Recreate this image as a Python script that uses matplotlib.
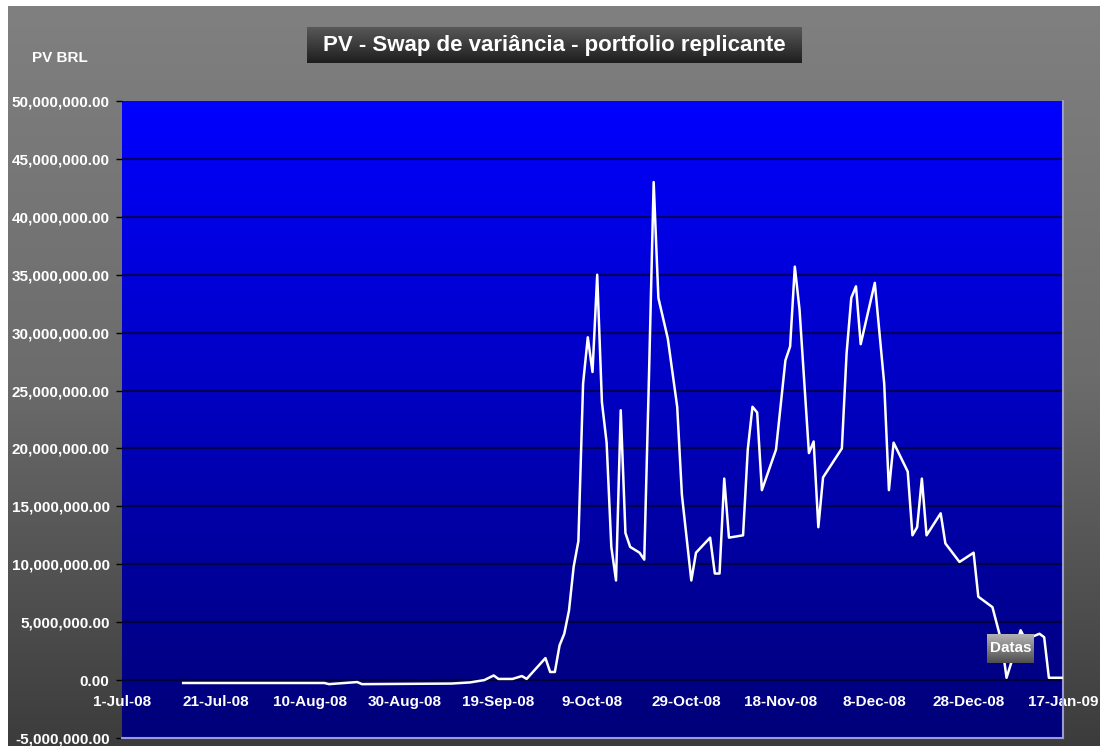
import numpy as np
import pandas as pd
import matplotlib
matplotlib.use("Agg")
from matplotlib import pyplot as plt
from matplotlib.colors import LinearSegmentedColormap
from matplotlib.ticker import FuncFormatter, MultipleLocator, FixedLocator
import matplotlib.dates as mdates

plt.rcParams['font.family'] = ['Liberation Sans', 'DejaVu Sans']

# data (PV in millions of BRL)
dates = [
    "2008-07-14", "2008-08-13", "2008-08-14", "2008-08-20", "2008-08-21",
    "2008-09-09", "2008-09-13", "2008-09-16", "2008-09-18", "2008-09-19",
    "2008-09-22", "2008-09-24", "2008-09-25", "2008-09-29", "2008-09-30",
    "2008-10-01", "2008-10-02", "2008-10-03", "2008-10-04", "2008-10-05",
    "2008-10-06", "2008-10-07", "2008-10-08", "2008-10-09", "2008-10-10",
    "2008-10-11", "2008-10-12", "2008-10-13", "2008-10-14", "2008-10-15",
    "2008-10-16", "2008-10-17", "2008-10-19", "2008-10-20", "2008-10-21",
    "2008-10-22", "2008-10-23", "2008-10-25", "2008-10-27", "2008-10-28",
    "2008-10-30", "2008-10-31", "2008-11-03", "2008-11-04", "2008-11-05",
    "2008-11-06", "2008-11-07", "2008-11-10", "2008-11-11", "2008-11-12",
    "2008-11-13", "2008-11-14", "2008-11-17", "2008-11-19", "2008-11-20",
    "2008-11-21", "2008-11-22", "2008-11-24", "2008-11-25", "2008-11-26",
    "2008-11-27", "2008-12-01", "2008-12-02", "2008-12-03", "2008-12-04",
    "2008-12-05", "2008-12-08", "2008-12-10", "2008-12-11", "2008-12-12",
    "2008-12-15", "2008-12-16", "2008-12-17", "2008-12-18", "2008-12-19",
    "2008-12-22", "2008-12-23", "2008-12-26", "2008-12-29", "2008-12-30",
    "2009-01-02", "2009-01-04", "2009-01-05", "2009-01-06", "2009-01-08",
    "2009-01-09", "2009-01-12", "2009-01-13", "2009-01-14", "2009-01-17",
]
pv_millions = [
    -0.25, -0.25, -0.35, -0.17, -0.35,
    -0.30, -0.20, 0.00, 0.40, 0.10,
    0.10, 0.35, 0.10, 1.90, 0.70,
    0.70, 3.00, 4.00, 6.00, 9.80,
    12.00, 25.60, 29.60, 26.60, 35.00,
    24.00, 20.50, 11.50, 8.60, 23.30,
    12.70, 11.50, 11.00, 10.40, 26.20,
    43.00, 33.00, 29.50, 23.60, 16.00,
    8.60, 11.00, 12.30, 9.20, 9.20,
    17.40, 12.30, 12.50, 19.90, 23.60,
    23.10, 16.40, 19.90, 27.60, 28.80,
    35.70, 32.00, 19.60, 20.60, 13.20,
    17.50, 20.00, 28.20, 33.00, 34.00,
    29.00, 34.30, 25.60, 16.40, 20.50,
    18.00, 12.50, 13.20, 17.40, 12.50,
    14.40, 11.80, 10.20, 11.00, 7.20,
    6.30, 3.20, 0.20, 1.50, 4.30,
    3.50, 4.00, 3.70, 0.20, 0.20,
]

x_start = "2008-07-01"
x_end = "2009-01-17"
y_min, y_max, y_step = -5e6, 50e6, 5e6

title = "PV - Swap de variância - portfolio replicante"
y_title = "PV BRL"
x_title = "Datas"

x = pd.to_datetime(dates)
y = np.array(pv_millions) * 1e6

W, H = 1103, 746
fig = plt.figure(figsize=(W / 100, H / 100), dpi=100, facecolor="white")

def fx(px):
    return px / W

def fy(py):
    return (H - py) / H

def gradient_axes(left, top, right, bottom, top_col, bot_col, z, mid=None):
    a = fig.add_axes([fx(left), fy(bottom), fx(right - left), (bottom - top) / H], zorder=z)
    stops = [(0, bot_col), (1, top_col)] if mid is None else [(0, bot_col), (0.5, mid), (1, top_col)]
    cmap = LinearSegmentedColormap.from_list("g", stops)
    a.imshow(np.linspace(1, 0, 256).reshape(-1, 1), aspect="auto", cmap=cmap,
             extent=[0, 1, 0, 1], vmin=0, vmax=1)
    a.set_axis_off()
    return a

# grey chart area
gradient_axes(8, 6, 1100, 746, "#808080", "#3c3c3c", 0, mid="#6c6c6c")

# plot area
ax = fig.add_axes([fx(122), fy(738), fx(1063 - 122), (738 - 101) / H], zorder=1)
ax.patch.set_visible(False)
blue = LinearSegmentedColormap.from_list("b", [(0, "#000078"), (1, "#0000ff")])
ax.imshow(np.linspace(1, 0, 256).reshape(-1, 1), aspect="auto", cmap=blue,
          extent=[0, 1, 0, 1], transform=ax.transAxes, zorder=0, vmin=0, vmax=1)

for v in np.arange(0, y_max, y_step):
    ax.axhline(v, color="black", alpha=0.55, lw=1.6, zorder=1)
ax.axhline(y_min, color="#9a9ad8", lw=1.5, zorder=2, clip_on=False)

ax.plot(x, y, color="white", lw=1.8, zorder=3)

ax.set_xlim(pd.Timestamp(x_start), pd.Timestamp(x_end))
ax.set_ylim(y_min, y_max)

ax.yaxis.set_major_locator(MultipleLocator(y_step))
ax.yaxis.set_major_formatter(FuncFormatter(lambda v, p: "{:,.2f}".format(v)))
x_ticks = pd.date_range(x_start, x_end, freq="20D")
ax.xaxis.set_major_locator(FixedLocator(mdates.date2num(x_ticks)))
ax.xaxis.set_major_formatter(FuncFormatter(
    lambda v, p: "{}-{}".format(mdates.num2date(v).day, mdates.num2date(v).strftime("%b-%y"))))

ax.spines["bottom"].set_position(("data", 0))
ax.spines["bottom"].set_visible(False)
ax.spines["top"].set_visible(False)
ax.spines["left"].set_visible(False)
ax.spines["right"].set_color("#9a9ad8")
ax.spines["right"].set_linewidth(1.5)

ax.tick_params(axis="y", length=4, width=1, color="black", pad=5,
               labelsize=11, labelcolor="white")
ax.tick_params(axis="x", length=0, pad=11, labelsize=11, labelcolor="white")
for lab in ax.get_xticklabels() + ax.get_yticklabels():
    lab.set_fontweight("bold")

# title box
gradient_axes(307, 27, 802, 63, "#5a5a5a", "#1e1e1e", 2)
fig.text(fx(554.5), fy(45), title, color="white", fontsize=16, fontweight="bold",
         ha="center", va="center", zorder=3)

fig.text(fx(60), fy(58), y_title, color="white", fontsize=11, fontweight="bold",
         ha="center", va="center", zorder=3)

# "Datas" box
gradient_axes(987, 634, 1034, 663, "#b4b4b4", "#4e4e4e", 4)
fig.text(fx(1010.5), fy(648), x_title, color="white", fontsize=11, fontweight="bold",
         ha="center", va="center", zorder=5)

fig.savefig("out.png", dpi=100, facecolor="white")
